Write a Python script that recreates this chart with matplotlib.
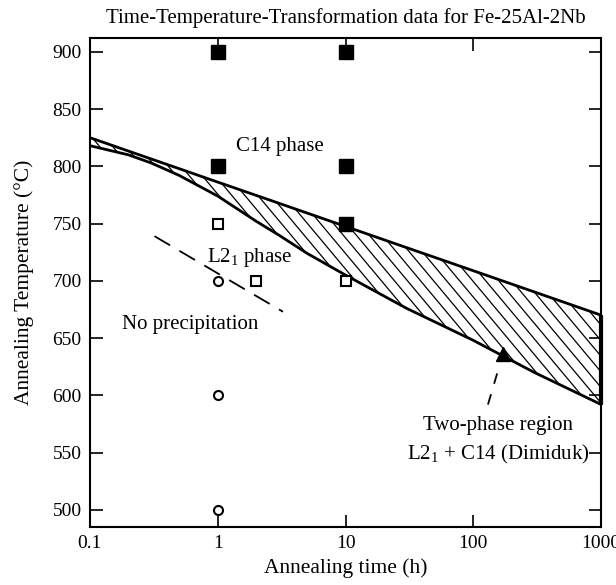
import numpy as np
import matplotlib
matplotlib.use('Agg')
import matplotlib.pyplot as plt
from matplotlib.patches import PathPatch

plt.rcParams['font.family'] = ['Liberation Serif', 'DejaVu Serif']
plt.rcParams['mathtext.fontset'] = 'custom'
plt.rcParams['mathtext.rm'] = 'Liberation Serif'

# observed phases (annealing time h, temperature C)
c14_time = [1, 10, 1, 10, 10]
c14_temp = [900, 900, 800, 800, 750]
l21_time = [1, 2, 10]
l21_temp = [750, 700, 700]
noppt_time = [1, 1, 1]
noppt_temp = [700, 600, 500]

# Dimiduk two-phase band
band_time = [0.1, 0.2, 0.3, 0.5, 1, 2, 3, 5, 10, 30, 100, 300, 1000]
band_upper = [825, 813.3, 806.5, 797.9, 786.2, 774.6, 767.8, 759.2, 747.5, 729, 708.8, 690.3, 670]
band_lower = [818, 810, 803, 792, 774, 752, 740, 724, 705, 676, 648, 620, 592]
dimiduk_time = [170]
dimiduk_temp = [636]

# dashed L2_1 / no precipitation boundary
bound_time = [0.32, 3.24]
bound_temp = [739, 673]
arrow_time = [130, 159]
arrow_temp = [592, 625]

xticks = [0.1, 1, 10, 100, 1000]
xticklabels = ['0.1', '1', '10', '100', '1000']
yticks = np.arange(500, 901, 50)

fig = plt.figure(figsize=(6.16, 5.85), dpi=100)
ax = fig.add_axes([0.146, 0.099, 0.830, 0.836])
ax.set_xscale('log')
ax.set_xlim(0.1, 1000)
ax.set_ylim(485, 912)

# hatched band
poly = ax.fill_between(band_time, band_lower, band_upper, facecolor='none', edgecolor='none')
clip = PathPatch(poly.get_paths()[0], transform=ax.transData, fill=False, lw=0)
ax.add_patch(clip)
for c in np.arange(-1.0, 1.1, 0.0255):
    ln, = ax.plot([c, c + 0.80], [1, 0], transform=ax.transAxes, color='k', lw=0.9)
    ln.set_clip_path(clip)
ax.plot(band_time, band_upper, color='k', lw=2)
ax.plot(band_time, band_lower, color='k', lw=2)
ax.vlines(band_time[-1], band_lower[-1], band_upper[-1], color='k', lw=3, clip_on=False)

ax.plot(c14_time, c14_temp, 's', color='k', ms=9.5, clip_on=False, zorder=5)
ax.plot(l21_time, l21_temp, 's', mfc='white', mec='k', mew=1.5, ms=7.5, zorder=5)
ax.plot(noppt_time, noppt_temp, 'o', mfc='white', mec='k', mew=1.5, ms=6.5, zorder=5)
ax.plot(dimiduk_time, dimiduk_temp, '^', color='k', ms=10, zorder=5)

ax.plot(bound_time, bound_temp, color='k', lw=1.3, dashes=(10, 6))
ax.plot(arrow_time, arrow_temp, color='k', lw=1.3, dashes=(6, 6))

ax.text(3.07, 817, 'C14 phase', fontsize=15, ha='center', va='center')
ax.text(0.82, 710, r'L2$_{\mathregular{1}}$ phase', fontsize=15, ha='left', va='bottom')
ax.text(0.178, 662, 'No precipitation', fontsize=15, ha='left', va='center')
ax.text(156, 574, 'Two-phase region', fontsize=15, ha='center', va='center')
ax.text(156, 548, r'L2$_{\mathregular{1}}$ + C14 (Dimiduk)', fontsize=15, ha='center', va='center')

ax.set_xticks(xticks)
ax.set_xticklabels(xticklabels)
ax.xaxis.set_minor_locator(plt.NullLocator())
ax.set_yticks(yticks)
ax.tick_params(direction='in', top=True, right=True, length=9, width=1.2, labelsize=14, pad=6)
for s in ax.spines.values():
    s.set_linewidth(1.5)

ax.set_xlabel('Annealing time (h)', fontsize=15.5, labelpad=4)
ax.set_ylabel('Annealing Temperature (°C)', fontsize=15.5, labelpad=13)
ax.set_title('Time-Temperature-Transformation data for Fe-25Al-2Nb', fontsize=15, pad=11)

fig.savefig('out.png', dpi=100)
